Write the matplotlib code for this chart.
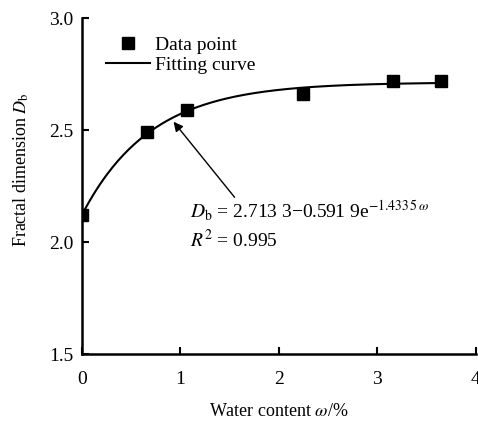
import numpy as np
import matplotlib
matplotlib.use("Agg")
import matplotlib.pyplot as plt

plt.rcParams['font.family'] = ['Liberation Serif', 'DejaVu Serif']
plt.rcParams['mathtext.fontset'] = 'stix'

# measured points
water = [0.0, 0.66, 1.07, 2.24, 3.16, 3.65]
d_b = [2.12, 2.49, 2.59, 2.66, 2.72, 2.72]

# fitted exponential model coefficients
a, b, c = 2.7133, 0.5919, 1.4335

fig = plt.figure(figsize=(4.78, 4.21), dpi=100)
ax = fig.add_axes([0.1715, 0.159, 0.824, 0.798])

w = np.linspace(0, max(water), 200)
ax.plot(w, a - b * np.exp(-c * w), color='black', lw=1.5, label='Fitting curve')
ax.plot(water, d_b, 's', color='black', ms=8, label='Data point')

ax.set_xlim(0, 4)
ax.set_ylim(1.5, 3.0)
ax.set_xticks([0, 1, 2, 3, 4])
ax.set_yticks([1.5, 2.0, 2.5, 3.0])
ax.set_yticklabels(['1.5', '2.0', '2.5', '3.0'])
ax.tick_params(direction='in', length=5, width=1.5, labelsize=14, pad=6)
ax.tick_params(axis='x', pad=12)
for s in ['top', 'right']:
    ax.spines[s].set_visible(False)
for s in ['left', 'bottom']:
    ax.spines[s].set_linewidth(1.8)

ax.set_xlabel(r'Water content $\omega$/%', fontsize=13, labelpad=11)
ax.set_ylabel(r'Fractal dimension $D_\mathrm{b}$', fontsize=13)
ax.yaxis.set_label_coords(-0.13, 0.548)

h, l = ax.get_legend_handles_labels()
ax.legend(h[::-1], l[::-1], loc='upper left', bbox_to_anchor=(0.04, 0.97),
          frameon=False, fontsize=14, handlelength=2.3, handletextpad=0.25,
          labelspacing=0.15, borderaxespad=0)

ax.annotate('', xy=(0.93, a - b * np.exp(-c * 0.93) - 0.02), xytext=(1.55, 2.20),
            arrowprops=dict(arrowstyle='-|>', color='black', lw=1.0,
                            mutation_scale=14, shrinkA=0, shrinkB=0))
ax.text(1.1, 2.14,
        r'$D_\mathrm{b}$ = 2.713 3−0.591 9e$^{−1.433\,5\,\omega}$',
        fontsize=14, va='center')
ax.text(1.1, 2.01, r'$R^2$ = 0.995', fontsize=14, va='center')

fig.savefig('out.png', dpi=100)
